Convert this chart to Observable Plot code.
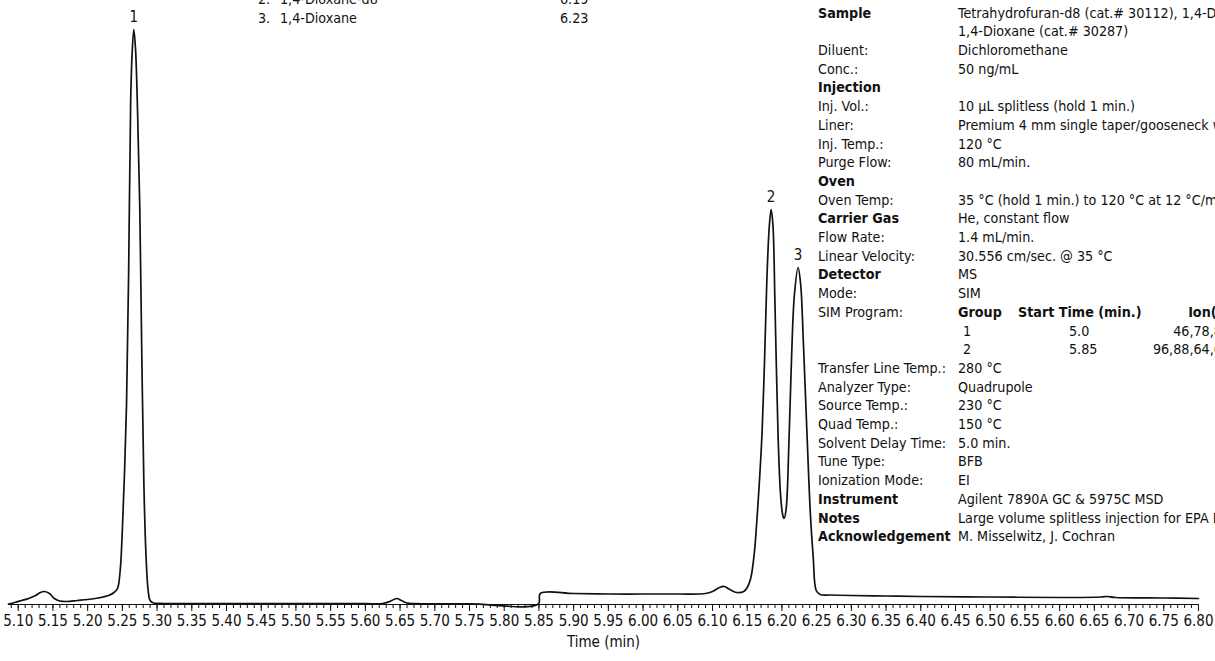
<!DOCTYPE html>
<html>
<head>
<meta charset="utf-8">
<script src="https://cdn.jsdelivr.net/npm/d3@7"></script>
<script src="https://cdn.jsdelivr.net/npm/@observablehq/plot@0.6"></script>
<style>
  html, body { margin: 0; padding: 0; background: #fff; overflow: hidden; }
  #wrap { position: relative; width: 1215px; height: 661px; overflow: hidden;
          font-family: "Liberation Sans Narrow", "DejaVu Sans Condensed", "Roboto Condensed", "Roboto", sans-serif; color: #111; }
  #chart { position: absolute; left: 0; top: 0; }
  .row { position: absolute; height: 18.7px; line-height: 18.7px; font-size: 14.2px; white-space: nowrap; }
  .b { font-weight: bold; }
</style>
</head>
<body>
<div id="wrap"><div id="chart"></div></div>
<script>
// ---- Data (intensity in arbitrary units) ----
const times = [
  5.086, 5.095, 5.105, 5.115, 5.125, 5.132, 5.138, 5.145, 5.152, 5.160, 5.170, 5.185, 5.200, 5.215, 5.230, 5.238,
  5.243, 5.247, 5.250, 5.253, 5.256, 5.259, 5.262, 5.264, 5.2665, 5.269, 5.272, 5.275, 5.278, 5.281, 5.284, 5.287,
  5.290, 5.295, 5.300, 5.350, 5.400, 5.450, 5.500, 5.550, 5.600, 5.625, 5.635, 5.645, 5.652, 5.660, 5.670, 5.750,
  5.849, 5.852, 5.900, 5.950, 6.000, 6.050, 6.090, 6.100, 6.110, 6.117, 6.125, 6.135, 6.145, 6.150, 6.155, 6.160,
  6.164, 6.168, 6.1714, 6.175, 6.178, 6.1815, 6.1844, 6.187, 6.190, 6.1945, 6.198, 6.201, 6.2031, 6.206, 6.210,
  6.214, 6.218, 6.2233, 6.227, 6.231, 6.2363, 6.241, 6.2451, 6.2494, 6.255, 6.270, 6.300, 6.350, 6.400, 6.500,
  6.600, 6.660, 6.668, 6.680, 6.750, 6.800
];
const signal = [
  0.5, 2, 4, 6, 9, 12, 13, 11, 6, 3.5, 3, 4, 5, 6.5, 9, 12,
  16, 35, 75, 130, 200, 330, 505, 550, 575, 555, 490, 400, 250, 120, 50, 15,
  4, 1.5, 1.2, 1, 1, 0.9, 0.8, 0.8, 0.8, 1, 3, 6, 4, 1.5, 0.8, 0.6,
  0.5, 11, 11, 10.5, 10.5, 10.5, 11, 13, 17, 18, 15, 12, 13, 17, 26, 50,
  85, 128, 172, 245, 318, 375, 395, 380, 300, 167, 110, 90, 86, 95, 160,
  250, 310, 337, 320, 260, 167, 90, 47, 14, 10, 9.5, 9, 8.5, 8, 7.5,
  7, 7.5, 8, 7, 6.5, 6
];
const peakTimes  = [5.2665, 6.1844, 6.2233];
const peakLabels = ["1", "2", "3"];
const majorTicks = [5.10, 5.15, 5.20, 5.25, 5.30, 5.35, 5.40, 5.45, 5.50, 5.55, 5.60, 5.65, 5.70, 5.75, 5.80, 5.85,
  5.90, 5.95, 6.00, 6.05, 6.10, 6.15, 6.20, 6.25, 6.30, 6.35, 6.40, 6.45, 6.50, 6.55, 6.60, 6.65, 6.70, 6.75, 6.80];
const minorTicks = d3.range(509, 681).map(d => d / 100);

const peakNums  = ["2.", "3."];
const peakNames = ["1,4-Dioxane-d8", "1,4-Dioxane"];
const peakRT    = ["6.19", "6.23"];

const condLabels = ["Sample", "", "Diluent:", "Conc.:", "Injection", "Inj. Vol.:", "Liner:", "Inj. Temp.:", "Purge Flow:",
  "Oven", "Oven Temp:", "Carrier Gas", "Flow Rate:", "Linear Velocity:", "Detector", "Mode:", "SIM Program:", "", "",
  "Transfer Line Temp.:", "Analyzer Type:", "Source Temp.:", "Quad Temp.:", "Solvent Delay Time:", "Tune Type:",
  "Ionization Mode:", "Instrument", "Notes", "Acknowledgement"];
const condBold = [1,0,0,0,1,0,0,0,0,1,0,1,0,0,1,0,0,0,0,0,0,0,0,0,0,0,1,1,1];
const condValues = ["Tetrahydrofuran-d8 (cat.# 30112), 1,4-Dioxane-d8", "1,4-Dioxane (cat.# 30287)", "Dichloromethane",
  "50 ng/mL", "", "10 µL splitless (hold 1 min.)", "Premium 4 mm single taper/gooseneck w/ wool", "120 °C", "80 mL/min.",
  "", "35 °C (hold 1 min.) to 120 °C at 12 °C/min", "He, constant flow", "1.4 mL/min.", "30.556 cm/sec. @ 35 °C", "MS",
  "SIM", null, null, null, "280 °C", "Quadrupole", "230 °C", "150 °C", "5.0 min.", "BFB", "EI",
  "Agilent 7890A GC & 5975C MSD", "Large volume splitless injection for EPA Method 522", "M. Misselwitz, J. Cochran"];
const simGroups = ["Group", "1", "2"];
const simStart  = ["Start Time (min.)", "5.0", "5.85"];
const simIons   = ["Ion(s)", "46,78,80", "96,88,64,62"];

// ---- Chart ----
const trace = times.map((t, i) => ({t, v: signal[i]}));
const peaks = peakTimes.map((t, i) => ({t, v: signal[times.indexOf(t)], label: peakLabels[i]}));

const chart = Plot.plot({
  width: 1215, height: 661,
  marginLeft: 8, marginRight: 17, marginTop: 0, marginBottom: 57,
  style: {fontFamily: '"Liberation Sans Narrow", "DejaVu Sans Condensed", "Roboto", sans-serif', fontSize: "15px", color: "#111"},
  x: {domain: [5.086, 6.80]},
  y: {domain: [0, 604], axis: null},
  marks: [
    Plot.frame({anchor: "bottom", stroke: "#111"}),
    Plot.axisX({ticks: minorTicks, tickSize: 4, tickFormat: () => "", label: null, stroke: "#111"}),
    Plot.axisX({ticks: majorTicks, tickSize: 7, tickPadding: 4, tickFormat: d => d.toFixed(2), fontSize: 15,
      label: "Time (min)", labelAnchor: "center", labelArrow: "none", labelOffset: 42, stroke: "#111"}),
    Plot.line(trace, {x: "t", y: "v", stroke: "#111", strokeWidth: 1.7, curve: "catmull-rom"}),
    Plot.text(peaks, {x: "t", y: "v", text: "label", dy: -12, fontSize: 15, fill: "#111"})
  ]
});
document.getElementById("chart").appendChild(chart);

// ---- Text overlays ----
const wrap = document.getElementById("wrap");
function addRow(text, left, top, bold, align) {
  const d = document.createElement("div");
  d.className = "row" + (bold ? " b" : "");
  d.textContent = text;
  d.style.top = top + "px";
  if (align === "right") { d.style.right = (1215 - left) + "px"; } else { d.style.left = left + "px"; }
  wrap.appendChild(d);
  return d;
}
const rowH = 18.7, firstTop = 13 - rowH / 2;
peakNames.forEach((n, i) => {
  const top = 18 - rowH / 2 - (peakNames.length - 1 - i) * rowH;
  addRow(peakNums[i], 258, top);
  addRow(n, 280, top);
  addRow(peakRT[i], 560, top);
});
condLabels.forEach((l, i) => {
  const top = firstTop + i * rowH;
  if (l) addRow(l, 818, top, condBold[i]);
  const v = condValues[i];
  if (v) addRow(v, 958, top, false);
});
[16, 17, 18].forEach((r, j) => {
  const top = firstTop + r * rowH;
  addRow(simGroups[j], j === 0 ? 958 : 963, top, j === 0);
  addRow(simStart[j], j === 0 ? 1018 : 1069, top, j === 0);
  addRow(simIons[j], 1230, top, j === 0, "right");
});
</script>
</body>
</html>
